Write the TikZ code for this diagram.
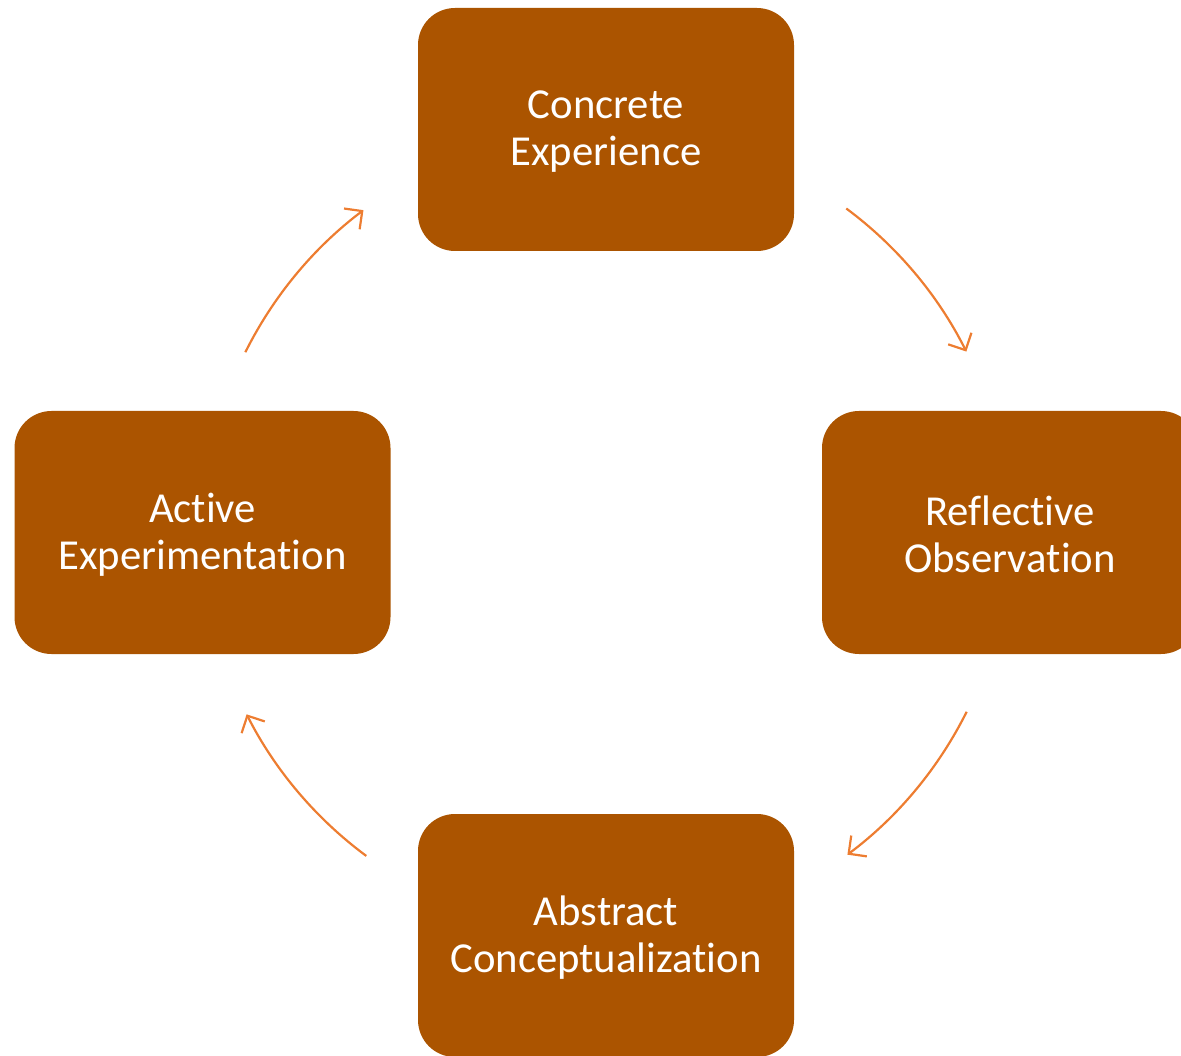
\documentclass[tikz,border=0pt]{standalone}
\usepackage{fontspec}
\setmainfont{Carlito}[RawFeature={-liga;-clig}]
\usetikzlibrary{arrows.meta,calc}
\definecolor{boxfill}{HTML}{AB5400}
\definecolor{arrcol}{HTML}{ED7D31}
\begin{document}
\begin{tikzpicture}[x=1pt,y=1pt,
  stagebox/.style={draw=none, fill=boxfill, rounded corners=37pt, minimum width=376pt, minimum height=243pt,
    text=white, align=center, font=\fontsize{42.7}{47}\selectfont, inner sep=0pt},
  cyclearrow/.style={draw=arrcol, line width=2.2pt, -{Straight Barb[length=13pt,width=26pt,line width=2.2pt]}}]
\useasboundingbox (0,0) rectangle (1181,-1056);
\coordinate (ctr) at (606,-532);
\node[stagebox] (ce) at (606,-129.5) {};
\node[stagebox] (ro) at (1010,-532.5) {};
\node[stagebox] (ac) at (606,-935.5) {};
\node[stagebox] (ae) at (202.5,-532.5) {};
\node[stagebox, fill=none, minimum width=0pt, minimum height=0pt] (cet) at ([yshift=-2pt]ce.center) {Concrete\\Experience};
\node[stagebox, fill=none, minimum width=0pt, minimum height=0pt] (rot) at ([yshift=-2pt]ro.center) {Reflective\\Observation};
\node[stagebox, fill=none, minimum width=0pt, minimum height=0pt] (act) at ([yshift=-2pt]ac.center) {Abstract\\Conceptualization};
\node[stagebox, fill=none, minimum width=0pt, minimum height=0pt] (aet) at ([yshift=-2pt]ae.center) {Active\\Experimentation};
\coordinate (a1) at ($(ctr)+(53.4:403)$);
\coordinate (a2) at ($(ctr)+(-26.5:403)$);
\coordinate (a3) at ($(ctr)+(233.5:403)$);
\coordinate (a4) at ($(ctr)+(153.5:403)$);
\draw[cyclearrow] (a1) arc[start angle=53.4, end angle=26.6, radius=403];
\draw[cyclearrow] (a2) arc[start angle=-26.5, end angle=-53.2, radius=403];
\draw[cyclearrow] (a3) arc[start angle=233.5, end angle=206.9, radius=403];
\draw[cyclearrow] (a4) arc[start angle=153.5, end angle=127, radius=403];
\end{tikzpicture}
\end{document}
